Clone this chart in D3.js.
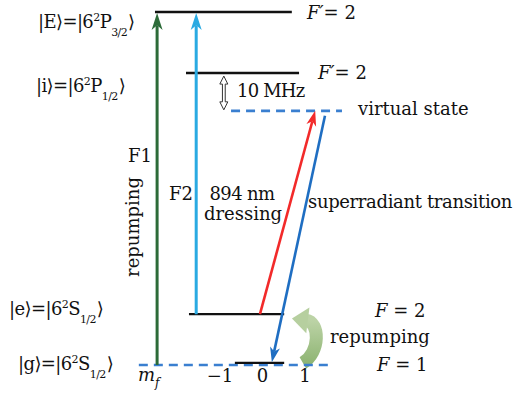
<!DOCTYPE html>
<html>
<head>
<meta charset="utf-8">
<title>Level scheme</title>
<script src="https://cdn.jsdelivr.net/npm/d3@7"></script>
<style>
  body { margin: 0; background: #fff; }
  svg text { font-family: "DejaVu Serif", "Liberation Serif", serif; fill: #111; }
</style>
</head>
<body>
<div id="chart"></div>
<script>
// levels: relative height (g = 0, E = 100), horizontal extent in m_f units
const levelNames = ["E", "i", "virtual", "e", "g", "g0"];
const levelEnergy = [100, 82.7, 72, 14.4, 0, 0.6];
const levelFrom = [-2.53, -1.8, -0.74, -1.73, -2.91, -0.65];
const levelTo = [0.69, 0.86, 1.87, 0.51, 1.54, 0.51];
const levelDashed = [false, false, true, false, true, false];

// transitions
const arrowNames = ["F1", "F2", "dressing", "superradiant"];
const arrowX0 = [-2.48, -1.56, -0.06, 1.47];
const arrowE0 = [0, 14.4, 14.4, 70.6];
const arrowX1 = [-2.48, -1.56, 1.24, 0.22];
const arrowE1 = [99.7, 99.7, 72, 0.8];
const arrowColors = ["#2c6b38", "#2aaae2", "#f22a2a", "#1f6ec2"];

// repumping curl (m_f, height)
const curlX = [0.95, 1.36, 1.36, 1.02];
const curlE = [0.6, 3.5, 12.2, 12.7];

const mfTicks = [-1, 0, 1];

const width = 518, height = 394;

const x = d3.scaleLinear().domain([0, 1]).range([262.5, 305]);
const y = d3.scaleLinear().domain([0, 100]).range([365, 12]);

const svg = d3.select("#chart").append("svg")
  .attr("width", width)
  .attr("height", height)
  .attr("viewBox", `0 0 ${width} ${height}`)
  .attr("font-family", "DejaVu Serif, serif");

const defs = svg.append("defs");
const grad = defs.append("linearGradient").attr("id", "curl")
  .attr("x1", 0).attr("y1", 0).attr("x2", 0).attr("y2", 1);
grad.append("stop").attr("offset", "0%").attr("stop-color", "#bcd3a6");
grad.append("stop").attr("offset", "100%").attr("stop-color", "#8fb574");

function arrowHead(g, x0, y0, x1, y1, color, len, half) {
  const d = Math.hypot(x1 - x0, y1 - y0);
  const ux = (x1 - x0) / d, uy = (y1 - y0) / d;
  const px = -uy, py = ux;
  const bx = x1 - ux * len, by = y1 - uy * len;
  const nx = x1 - ux * len * 0.72, ny = y1 - uy * len * 0.72;
  g.append("path")
    .attr("d", `M${x1},${y1}L${bx + px * half},${by + py * half}L${nx},${ny}L${bx - px * half},${by - py * half}Z`)
    .attr("fill", color);
  return [nx, ny];
}

// curl arrow (behind everything)
const cx = curlX.map(x), cy = curlE.map(y);
const curl = svg.append("g");
curl.append("path")
  .attr("d", `M${cx[0]},${cy[0]}C${cx[1]},${cy[1]} ${cx[2]},${cy[2]} ${cx[3]},${cy[3]}`)
  .attr("fill", "none")
  .attr("stroke", "url(#curl)")
  .attr("stroke-width", 13);
{
  const ux = cx[3] - cx[2], uy = cy[3] - cy[2];
  const d = Math.hypot(ux, uy);
  const tx = cx[3] + ux / d * 14, ty = cy[3] + uy / d * 14;
  const px = -uy / d, py = ux / d;
  curl.append("path")
    .attr("d", `M${tx},${ty}L${cx[3] - ux / d * 2 + px * 13},${cy[3] - uy / d * 2 + py * 13}L${cx[3] - ux / d * 2 - px * 13},${cy[3] - uy / d * 2 - py * 13}Z`)
    .attr("fill", "#b6cf9f");
}

// levels
svg.append("g").selectAll("line")
  .data(levelNames)
  .join("line")
  .attr("x1", (d, i) => x(levelFrom[i]))
  .attr("x2", (d, i) => x(levelTo[i]))
  .attr("y1", (d, i) => y(levelEnergy[i]))
  .attr("y2", (d, i) => y(levelEnergy[i]))
  .attr("stroke", (d, i) => levelDashed[i] ? "#3a7fd0" : "#111")
  .attr("stroke-width", (d, i) => levelDashed[i] ? 2.6 : 2.4)
  .attr("stroke-dasharray", (d, i) => levelDashed[i] ? "9,6" : null);

// transitions
const arr = svg.append("g");
arrowNames.forEach((n, i) => {
  const x0 = x(arrowX0[i]), y0 = y(arrowE0[i]);
  const x1 = x(arrowX1[i]), y1 = y(arrowE1[i]);
  const vertical = i < 2;
  const [nx, ny] = arrowHead(arr, x0, y0, x1, y1, arrowColors[i], vertical ? 17 : 15, vertical ? 5.5 : 5);
  arr.append("line")
    .attr("x1", x0).attr("y1", y0)
    .attr("x2", nx).attr("y2", ny)
    .attr("stroke", arrowColors[i])
    .attr("stroke-width", vertical ? 3 : 2.6);
});

// 10 MHz hollow double arrow
{
  const ax = x(-0.91), top = y(82.7) + 3, bot = y(72) - 1;
  const hw = 4, sw = 1.4, hl = 8;
  svg.append("path")
    .attr("d", `M${ax},${top}L${ax + hw},${top + hl}L${ax + sw},${top + hl}L${ax + sw},${bot - hl}L${ax + hw},${bot - hl}L${ax},${bot}L${ax - hw},${bot - hl}L${ax - sw},${bot - hl}L${ax - sw},${top + hl}L${ax - hw},${top + hl}Z`)
    .attr("fill", "#fff")
    .attr("stroke", "#333")
    .attr("stroke-width", 1);
}

// texts
const fs = 18;
function ket(xp, yp, letter, orb, sub) {
  const t = svg.append("text").attr("x", xp).attr("y", yp).attr("font-size", fs)
    .attr("letter-spacing", -0.6);
  t.append("tspan").text(`|${letter}⟩=|6`);
  t.append("tspan").attr("dy", -7).attr("font-size", 11).text("2");
  t.append("tspan").attr("dy", 7).text(orb);
  t.append("tspan").attr("dy", 8).attr("font-size", 11).text(sub);
  t.append("tspan").attr("dy", -8).attr("dx", 1).text("⟩");
}
ket(38, y(100) + 16, "E", "P", "3/2");
ket(36, y(82.7) + 19, "i", "P", "1/2");
ket(9, y(14.4) + 1, "e", "S", "1/2");
ket(18, y(0) + 5, "g", "S", "1/2");

function fLabel(xp, yp, prime, val) {
  const t = svg.append("text").attr("x", xp).attr("y", yp).attr("font-size", fs);
  t.append("tspan").attr("font-style", "italic").text(prime ? "F′" : "F");
  t.append("tspan").text(prime ? "= " + val : " = " + val);
}
fLabel(307, y(100) + 7, true, 2);
fLabel(318, y(82.7) + 6, true, 2);
fLabel(375, y(14.4) + 3, false, 2);
fLabel(377, y(0) + 6, false, 1);

svg.append("text").attr("x", 358).attr("y", y(72) + 4).attr("font-size", fs).text("virtual state");
svg.append("text").attr("x", 237).attr("y", 97).attr("font-size", fs).attr("letter-spacing", -0.8).text("10 MHz");
svg.append("text").attr("x", 330).attr("y", 343).attr("font-size", fs).text("repumping");
svg.append("text").attr("x", 128).attr("y", 162).attr("font-size", fs).text("F1");
svg.append("text").attr("x", 169).attr("y", 200).attr("font-size", fs).text("F2");
svg.append("text").attr("transform", "translate(139,227) rotate(-90)")
  .attr("text-anchor", "middle").attr("font-size", fs).text("repumping");
svg.append("text").attr("x", 242).attr("y", 200).attr("text-anchor", "middle").attr("font-size", fs)
  .attr("letter-spacing", -0.6).text("894 nm");
svg.append("text").attr("x", 243).attr("y", 220).attr("text-anchor", "middle").attr("font-size", fs).text("dressing");
svg.append("text").attr("x", 308).attr("y", 208).attr("font-size", fs)
  .attr("letter-spacing", -0.35).text("superradiant transition");

// m_f axis labels
const mf = svg.append("text").attr("x", 138).attr("y", 381).attr("font-size", fs);
mf.append("tspan").attr("font-style", "italic").text("m");
mf.append("tspan").attr("dy", 6).attr("font-size", 12).attr("font-style", "italic").text("f");
svg.append("g").selectAll("text")
  .data(mfTicks)
  .join("text")
  .attr("x", d => x(d))
  .attr("y", 382)
  .attr("text-anchor", "middle")
  .attr("font-size", fs)
  .text(d => d < 0 ? "−" + Math.abs(d) : d);
</script>
</body>
</html>
